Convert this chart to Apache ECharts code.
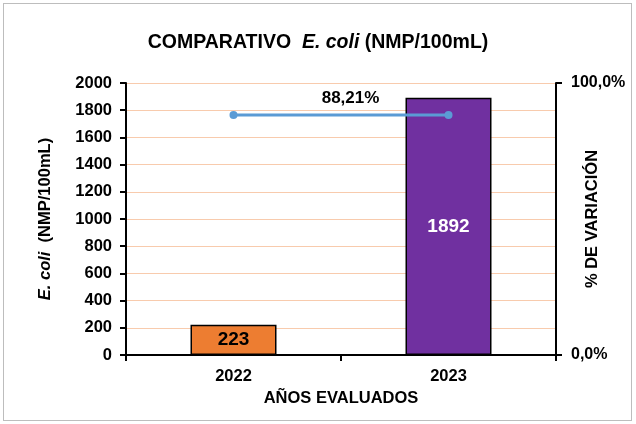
<!DOCTYPE html>
<html>
<head>
<meta charset="utf-8">
<script src="https://cdn.jsdelivr.net/npm/echarts@6/dist/echarts.min.js"></script>
<style>
html,body{margin:0;padding:0;background:#fff;}
#wrap{position:absolute;left:3px;top:3px;width:627px;height:416px;border:1.5px solid #BDBDBD;}
#c{position:absolute;left:0;top:0;width:636px;height:424px;}
</style>
</head>
<body>
<div id="wrap"></div>
<div id="c"></div>
<script>
const categories = ['2022', '2023'];
const ecoliValues = [223, 1892];
const barColors = ['#ED7D31', '#7030A0'];
const labelColors = ['#000000', '#FFFFFF'];
const variationValues = [88.21, 88.21];
const variationLabel = '88,21%';
const leftTicks = { min: 0, max: 2000, interval: 200 };
const rightTicks = { min: 0, max: 100, interval: 100 };

const font = 'Liberation Sans, Arial, sans-serif';
const chart = echarts.init(document.getElementById('c'), null, { renderer: 'canvas' });

chart.setOption({
  animation: false,
  backgroundColor: 'transparent',
  title: {
    text: '{n|COMPARATIVO  }{i|E. coli}{n| (NMP/100mL)}',
    left: 'center',
    top: 28,
    textStyle: {
      rich: {
        n: { fontFamily: font, fontWeight: 'bold', fontSize: 19.5, color: '#000' },
        i: { fontFamily: font, fontWeight: 'bold', fontStyle: 'italic', fontSize: 19.5, color: '#000' }
      }
    }
  },
  grid: { left: 126, right: 80, top: 83, bottom: 69, containLabel: false, outerBoundsMode: 'none' },
  xAxis: {
    type: 'category',
    data: categories,
    name: 'AÑOS EVALUADOS',
    nameLocation: 'middle',
    nameGap: 35,
    nameMoveOverlap: false,
    nameTextStyle: { fontFamily: font, fontWeight: 'bold', fontSize: 16.5, color: '#000' },
    axisLine: { lineStyle: { color: '#000', width: 2 } },
    axisTick: { show: true, length: 6, lineStyle: { color: '#000', width: 2 } },
    axisLabel: { fontFamily: font, fontWeight: 'bold', fontSize: 16.5, color: '#000', margin: 13 }
  },
  yAxis: [
    {
      type: 'value',
      min: leftTicks.min, max: leftTicks.max, interval: leftTicks.interval,
      name: '{i|E. coli}{n|  (NMP/100mL)}',
      nameLocation: 'middle',
      nameGap: 72,
      nameRotate: 90,
      nameMoveOverlap: false,
      nameTextStyle: {
        rich: {
          n: { fontFamily: font, fontWeight: 'bold', fontSize: 16.5, color: '#000' },
          i: { fontFamily: font, fontWeight: 'bold', fontStyle: 'italic', fontSize: 16.5, color: '#000' }
        }
      },
      axisLine: { show: true, lineStyle: { color: '#000', width: 2 } },
      axisTick: { show: true, length: 6, lineStyle: { color: '#000', width: 2 } },
      axisLabel: { fontFamily: font, fontWeight: 'bold', fontSize: 16.5, color: '#000', margin: 14,
        formatter: v => String(v) },
      splitLine: { show: true, lineStyle: { color: '#F8CBAD', width: 1 } }
    },
    {
      type: 'value',
      position: 'right',
      min: rightTicks.min, max: rightTicks.max, interval: rightTicks.interval,
      name: '% DE VARIACIÓN',
      nameLocation: 'middle',
      nameGap: 28,
      nameRotate: 90,
      nameMoveOverlap: false,
      nameTextStyle: { fontFamily: font, fontWeight: 'bold', fontSize: 16.5, color: '#000' },
      axisLine: { show: true, lineStyle: { color: '#000', width: 2 } },
      axisTick: { show: true, length: 6, lineStyle: { color: '#000', width: 2 } },
      axisLabel: { fontFamily: font, fontWeight: 'bold', fontSize: 16, color: '#000', margin: 15,
        formatter: v => v.toFixed(1).replace('.', ',') + '%' },
      splitLine: { show: false }
    }
  ],
  series: [
    {
      type: 'bar',
      yAxisIndex: 0,
      barWidth: '40%',
      data: ecoliValues.map((v, i) => ({
        value: v,
        itemStyle: { color: barColors[i], borderColor: '#000', borderWidth: 1.5 },
        label: { color: labelColors[i] }
      })),
      label: {
        show: true,
        position: 'inside',
        fontFamily: font, fontWeight: 'bold', fontSize: 19
      }
    },
    {
      type: 'line',
      yAxisIndex: 1,
      data: variationValues.map((v, i) => i === 0
        ? { value: v, label: { show: true, offset: [117, 0], formatter: variationLabel } }
        : { value: v }),
      symbol: 'circle',
      symbolSize: 8,
      lineStyle: { color: '#5B9BD5', width: 3 },
      itemStyle: { color: '#5B9BD5' },
      label: { show: false, position: 'top', distance: 4,
        fontFamily: font, fontWeight: 'bold', fontSize: 17, color: '#000' }
    }
  ]
});
</script>
</body>
</html>
